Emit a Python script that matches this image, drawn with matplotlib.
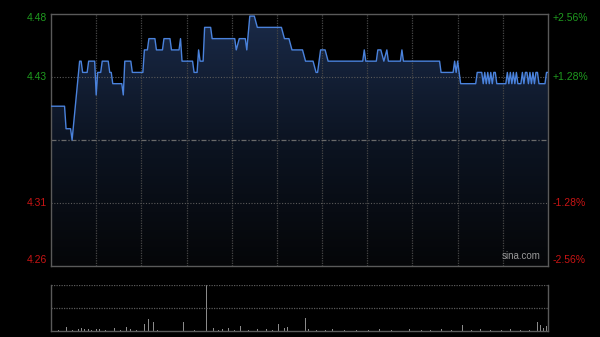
import matplotlib
matplotlib.use("Agg")
import matplotlib.pyplot as plt
import numpy as np

# intraday price, minutes after 9:30 (lunch break removed, 330 min session)
minutes = [0, 9, 10, 13, 14, 19, 20, 21, 24, 25, 29, 30, 31, 33, 34, 38, 39, 40, 41,
           47, 48, 49, 53, 54, 61, 62, 64, 65, 69, 70, 74, 75, 79, 80, 85, 86, 87,
           94, 95, 97, 98, 99, 101, 102, 106, 107, 122, 123, 125, 129, 130, 132, 135,
           137, 153, 155, 158, 160, 167, 169, 174, 176, 177, 179, 182, 184, 207, 208,
           209, 216, 217, 219, 221, 223, 224, 232, 233, 234, 258, 259, 267, 268, 269,
           270, 271, 272, 282, 283, 286, 287, 288, 289, 290, 291, 292, 293, 294, 295,
           296, 302, 303, 304, 305, 306, 307, 308, 309, 310, 312, 313, 314, 315, 316,
           317, 318, 319, 320, 321, 322, 323, 324, 328, 329, 330]
prices = [4.40, 4.40, 4.38, 4.38, 4.37, 4.44, 4.44, 4.43, 4.43, 4.44, 4.44, 4.41, 4.43,
          4.43, 4.44, 4.44, 4.43, 4.43, 4.42, 4.42, 4.41, 4.44, 4.44, 4.43, 4.43, 4.45,
          4.45, 4.46, 4.46, 4.45, 4.45, 4.46, 4.46, 4.45, 4.45, 4.46, 4.44, 4.44, 4.43,
          4.43, 4.45, 4.44, 4.44, 4.47, 4.47, 4.46, 4.46, 4.45, 4.46, 4.46, 4.45, 4.48,
          4.48, 4.47, 4.47, 4.46, 4.46, 4.45, 4.45, 4.44, 4.44, 4.43, 4.43, 4.45, 4.45,
          4.44, 4.44, 4.45, 4.44, 4.44, 4.45, 4.45, 4.44, 4.45, 4.44, 4.44, 4.45, 4.44,
          4.44, 4.43, 4.43, 4.44, 4.43, 4.44, 4.43, 4.42, 4.42, 4.43, 4.43, 4.42, 4.43,
          4.42, 4.43, 4.42, 4.43, 4.42, 4.43, 4.43, 4.42, 4.42, 4.43, 4.42, 4.43, 4.42,
          4.43, 4.42, 4.43, 4.42, 4.42, 4.43, 4.42, 4.43, 4.43, 4.42, 4.43, 4.42, 4.43,
          4.42, 4.43, 4.43, 4.42, 4.42, 4.43, 4.43]
prev_close = 4.37

# volume bars (minute, size)
vol_minutes = [2, 5, 10, 14, 18, 20, 22, 25, 27, 30, 32, 36, 42, 46, 50, 53, 57, 62, 65,
               68, 71, 75, 79, 83, 88, 95, 103, 108, 111, 114, 118, 122, 126, 131, 137,
               143, 147, 151, 155, 157, 162, 169, 171, 176, 182, 187, 195, 203, 211, 218,
               226, 238, 246, 252, 259, 266, 273, 279, 285, 292, 299, 305, 312, 318,
               323, 325, 327, 329, 330]
volumes = [4, 2, 8, 2, 4, 6, 4, 4, 2, 4, 4, 2, 6, 2, 8, 4, 2, 14, 24,
           18, 2, 8, 4, 2, 18, 2, 200, 6, 2, 4, 6, 2, 10, 2, 4,
           4, 2, 14, 6, 8, 2, 26, 4, 2, 2, 4, 2, 2, 2, 4,
           2, 4, 2, 2, 4, 2, 12, 2, 4, 2, 2, 4, 2, 2,
           18, 12, 6, 10, 10]

left_labels = ["4.48", "4.43", "4.31", "4.26"]
right_labels = ["+2.56%", "+1.28%", "-1.28%", "-2.56%"]
pct_levels = [0.0256, 0.0128, -0.0128, -0.0256]

GREEN = "#1f9a1f"
RED = "#c81414"
FRAME = "#5a5a5a"

fig = plt.figure(figsize=(6, 3.37), dpi=100, facecolor="black")
ax = fig.add_axes([51 / 600, 1 - 266 / 337, 497 / 600, 252 / 337])
axv = fig.add_axes([51 / 600, 1 - 331 / 337, 497 / 600, 46 / 337])

lo, hi = prev_close * (1 - 0.0256), prev_close * (1 + 0.0256)
ax.set_facecolor("black")
ax.set_xlim(0, 330)
ax.set_ylim(lo, hi)

# gradient fill below the price line
poly = ax.fill_between(minutes, prices, lo, color="none", lw=0)
grad = np.linspace(0, 1, 256).reshape(-1, 1)
cmap = matplotlib.colors.LinearSegmentedColormap.from_list(
    "g", ["#050608", "#0c1422", "#1a2a48"])
img = ax.imshow(grad, cmap=cmap, aspect="auto", origin="lower",
                extent=[0, 330, lo, hi], zorder=1)
img.set_clip_path(poly.get_paths()[0], transform=ax.transData)

for m in range(30, 330, 30):
    ax.axvline(m, color="#464646", lw=0.9, ls=(0, (1, 1)), zorder=2)
for p in (0.0128, -0.0128):
    ax.axhline(prev_close * (1 + p), color="#5a5a5a", lw=0.8, ls=(0, (1, 1.5)), zorder=2)
ax.axhline(prev_close, color="#6a6a6a", lw=0.9, ls=(0, (4, 1.5, 1, 1.5)), zorder=2)

ax.plot(minutes, prices, color="#4a82dc", lw=1.0, zorder=3)

ax.set_xticks([])
ax.set_yticks([])
for s in ax.spines.values():
    s.set_color(FRAME)
    s.set_linewidth(1.0)

# price labels on both sides
for i, (lab, rlab, p) in enumerate(zip(left_labels, right_labels, pct_levels)):
    col = GREEN if p > 0 else RED
    y = prev_close * (1 + p)
    off = 0
    if i == 0:
        off = -4
    elif i == 3:
        off = 6
    ax.annotate(lab, (0, y), xycoords=("axes fraction", "data"), xytext=(-4, off),
                textcoords="offset pixels", ha="right", va="center", color=col,
                fontsize=7.5, family="Liberation Sans")
    ax.annotate(rlab, (1, y), xycoords=("axes fraction", "data"), xytext=(5, off),
                textcoords="offset pixels", ha="left", va="center", color=col,
                fontsize=7.5, family="Liberation Sans")

ax.text(0.985, 0.018, "sina.com", transform=ax.transAxes, ha="right", va="bottom",
        color="#9a9a9a", fontsize=7, family="Liberation Sans", zorder=4)

# volume panel
axv.set_facecolor("black")
axv.set_xlim(0, 330)
axv.set_ylim(0, 92)
axv.bar(vol_minutes, volumes, width=0.6, color="#8a8a8a", lw=0)
axv.axhline(92, color="#5a5a5a", lw=0.9, ls=(0, (1, 1)))
axv.axhline(46, color="#5a5a5a", lw=0.9, ls=(0, (1, 1)))
axv.set_xticks([])
axv.set_yticks([])
axv.spines["top"].set_visible(False)
for k in ("left", "right", "bottom"):
    axv.spines[k].set_color(FRAME)
    axv.spines[k].set_linewidth(1.0)

fig.savefig("out.png", dpi=100, facecolor="black")
